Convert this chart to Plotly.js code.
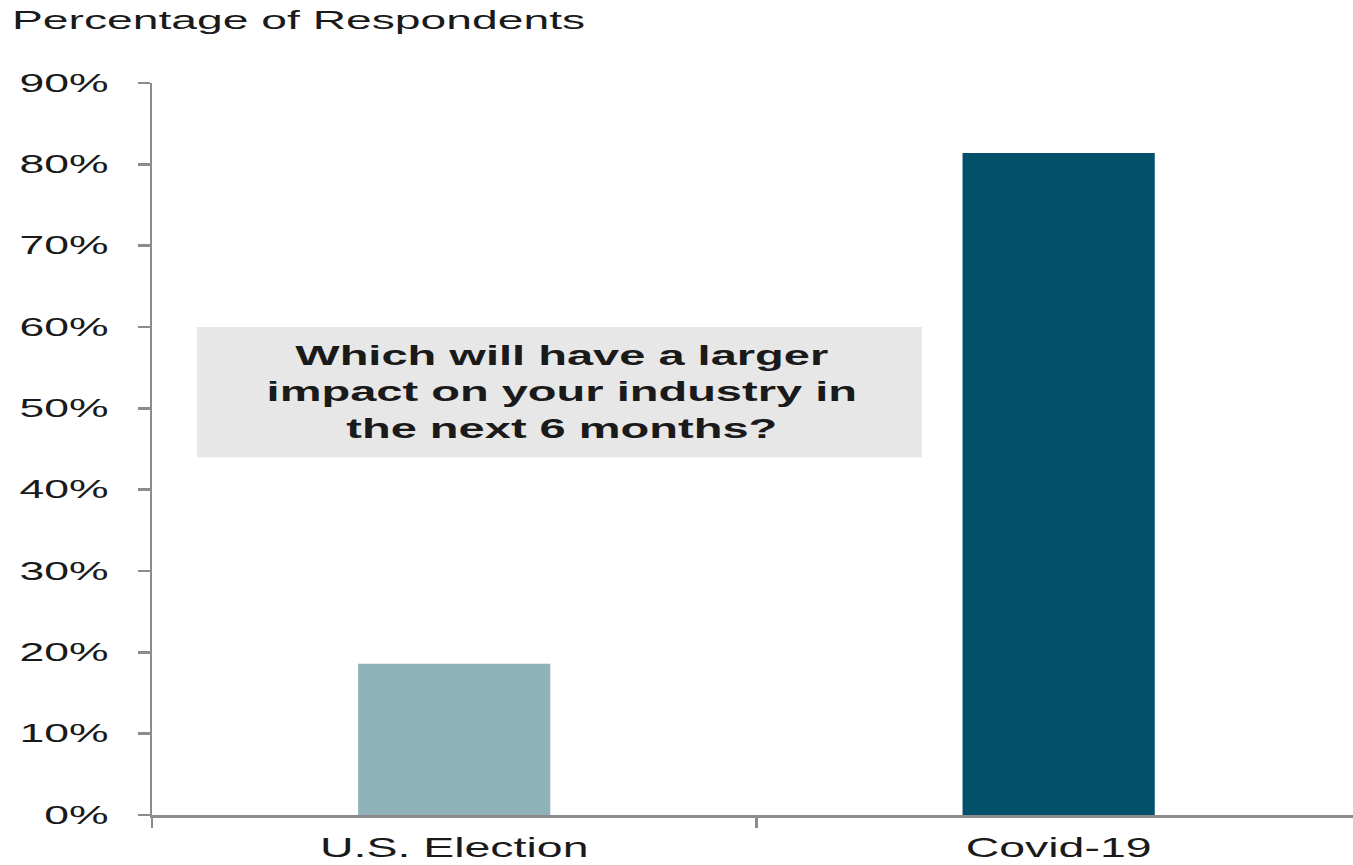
<!DOCTYPE html>
<html>
<head>
<meta charset="utf-8">
<script src="https://cdn.plot.ly/plotly-3.0.1.min.js"></script>
<style>html,body{margin:0;padding:0;background:#fff;}#chart{width:1353px;height:865px;}</style>
</head>
<body>
<div id="chart"></div>
<script>
const categories = ["U.S. Election", "Covid-19"];
const values = [18.6, 81.4];
const barColors = ["#8fb3b9", "#03506b"];
const yTickVals = [0, 10, 20, 30, 40, 50, 60, 70, 80, 90];
const yTickText = ["0%", "10%", "20%", "30%", "40%", "50%", "60%", "70%", "80%", "90%"];
const questionText = "Which will have a larger<br>impact on your industry in<br>the next 6 months?";

const FONT = "Liberation Sans, Arial, sans-serif";
const trace = {
  type: "bar",
  x: categories,
  y: values,
  marker: {color: barColors},
  width: 0.318,
  hoverinfo: "x+y"
};
const layout = {
  width: 1353, height: 865,
  margin: {l: 152, r: 0, t: 83, b: 50},
  paper_bgcolor: "#fff", plot_bgcolor: "#fff",
  showlegend: false,
  font: {family: FONT, color: "#1a1a1a"},
  title: {
    text: "Percentage of Respondents",
    font: {family: FONT, size: 25, color: "#1a1a1a"},
    xref: "container", yref: "container",
    x: 12/1353, xanchor: "left",
    y: 1 - 20/865, yanchor: "middle"
  },
  xaxis: {
    type: "category",
    range: [-0.5, 1.487],
    showgrid: false, zeroline: false,
    showline: true, linecolor: "#8c8c8c", linewidth: 2.5,
    ticks: "outside", tickson: "boundaries", ticklen: 10, tickwidth: 2.5, tickcolor: "#8c8c8c",
    tickfont: {family: FONT, size: 28, color: "#1a1a1a"},
    ticklabelstandoff: 6,
    fixedrange: true
  },
  yaxis: {
    range: [0, 90],
    tickvals: yTickVals, ticktext: yTickText,
    showgrid: false, zeroline: false,
    showline: true, linecolor: "#8c8c8c", linewidth: 2.5,
    ticks: "outside", ticklen: 12, tickwidth: 2.5, tickcolor: "#8c8c8c",
    tickfont: {family: FONT, size: 25, color: "#1a1a1a"},
    ticklabelstandoff: 24,
    fixedrange: true
  },
  shapes: [{
    type: "rect", xref: "paper", yref: "y",
    x0: 0.0375, x1: 0.641, y0: 44, y1: 60,
    fillcolor: "#e7e7e7", line: {width: 0}, layer: "above"
  }],
  annotations: [{
    xref: "paper", yref: "y", x: 0.341, y: 52,
    text: "<b>" + questionText + "</b>",
    showarrow: false, align: "center",
    font: {family: FONT, size: 28, color: "#1a1a1a"}
  }]
};

// The reference typography is horizontally stretched; widen glyphs about each text's anchor.
function stretchText(sel, sx) {
  document.querySelectorAll(sel).forEach(function (t) {
    const x = parseFloat(t.getAttribute("x")) || 0;
    const base = t.getAttribute("data-base-transform");
    const tr = base !== null ? base : (t.getAttribute("transform") || "");
    t.setAttribute("data-base-transform", tr);
    t.setAttribute("transform", tr + " translate(" + x + ",0) scale(" + sx + ",1) translate(" + (-x) + ",0)");
  });
}
Plotly.newPlot("chart", [trace], layout, {displayModeBar: false, staticPlot: true}).then(function () {
  stretchText("#chart .gtitle", 1.85);
  stretchText("#chart .ytick text", 1.78);
  stretchText("#chart .xtick text", 1.66);
  stretchText("#chart .annotation-text", 1.68);
});
</script>
</body>
</html>
